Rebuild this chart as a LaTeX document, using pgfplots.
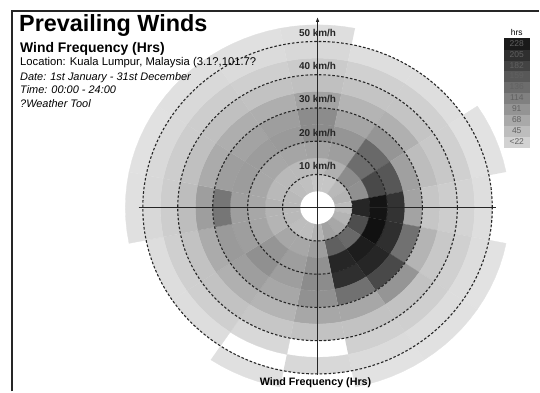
\documentclass[border=0pt]{standalone}
\usepackage{pgfplots}
\pgfplotsset{compat=1.18}
\usepackage{pgfplotstable}
\usepackage{fontspec}
\setmainfont{Liberation Sans}
\usetikzlibrary{arrows.meta}

% Hours of wind per direction (rows, N clockwise) and speed band (columns, 5 km/h wide from 5 km/h)
\pgfplotstableread{
dir r1 r2  r3  r4  r5  r6 r7 r8 r9 r10
0   35 50  75  100 100 75 42 30 15 8
1   35 60  80  90  72  55 38 24 8  0
2   50 100 135 140 90  60 38 24 8  0
3   55 96  175 160 78  45 33 24 6  4
4   45 215 235 200 75  35 28 20 8  0
5   55 170 238 205 130 55 33 24 10 4
6   70 140 225 215 175 90 40 25 10 5
7   77 150 215 205 130 70 40 24 12 4
8   55 80  95  100 95  70 40 0  15 0
9   45 70  80  80  70  55 35 15 0  6
10  45 70  90  96  80  60 40 25 10 0
11  50 55  72  80  85  65 40 25 10 0
12  50 55  70  80  125 80 45 28 15 6
13  50 50  70  82  80  65 42 28 14 5
14  45 50  70  82  75  62 42 28 14 6
15  42 50  72  85  80  62 40 25 12 6
}\windtab

% Colour key levels (hrs)
\pgfplotstableread{
k lvl
0 22
1 45
2 68
3 91
4 114
5 136
6 159
7 182
8 205
9 228
}\keytab

\begin{document}
\begin{tikzpicture}
% page extent
\path (0,0) rectangle (540bp,392bp);
\begin{axis}[
  at={(0,0)}, anchor=south west,
  scale only axis, x=3.5bp, y=3.33bp,
  xmin=-90.857, xmax=63.429, ymin=-55.255, ymax=62.462,
  hide axis, clip=false,
]
% speed/direction cells
\foreach \i in {0,...,15}{%
  \foreach \j in {1,...,10}{%
    \pgfplotstablegetelem{\i}{r\j}\of\windtab
    \let\hrs\pgfplotsretval
    \ifdim\hrs pt>0pt
      \pgfmathsetmacro\shade{10+0.35*\hrs}%
      \pgfmathsetmacro\ra{5*\j}%
      \pgfmathsetmacro\rb{5*\j+5}%
      \pgfmathsetmacro\ta{78.75-22.5*\i}%
      \gdef\pts{}%
      \foreach \k in {0,...,6}{\pgfmathsetmacro\ang{\ta+3.75*\k}\xdef\pts{\pts(\ang,\ra)}}%
      \foreach \k in {6,5,...,0}{\pgfmathsetmacro\ang{\ta+3.75*\k}\xdef\pts{\pts(\ang,\rb)}}%
      \edef\cell{\noexpand\addplot[forget plot, data cs=polar, draw=black!\shade, line width=0.3pt, fill=black!\shade] coordinates {\pts};}%
      \cell
    \fi
  }%
}
% speed rings
\foreach \s in {10,20,30,40,50}{%
  \edef\ring{\noexpand\draw[black!85, line width=1.1pt, dash pattern=on 2.6pt off 1.9pt] (axis cs:0,0) ellipse [x radius=\s, y radius=\s];}%
  \ring
}
% compass axes
\draw[black!85, line width=1.1pt] (axis cs:-51.2,0) -- (axis cs:51.2,0);
\draw[black!85, line width=1.1pt, -{Latex[length=5pt, width=3.5pt]}] (axis cs:0,-50.2) -- (axis cs:0,57.4);
\foreach \s in {10,20,30,40,50}{%
  \edef\lab{\noexpand\node[font=\noexpand\fontsize{10}{12}\noexpand\bfseries\noexpand\selectfont, text=black!85] at (axis cs:0,\s+2.6) {\s\noexpand\ km/h};}%
  \lab
}
\end{axis}

% colour key
\begin{axis}[
  at={(505bp,245bp)}, anchor=south west,
  scale only axis, width=25bp, height=109bp,
  xmin=0, xmax=1, ymin=0, ymax=10,
  hide axis, clip=false,
]
\foreach \k in {0,...,9}{%
  \pgfplotstablegetelem{\k}{lvl}\of\keytab
  \let\lv\pgfplotsretval
  \pgfmathsetmacro\shade{10+0.35*\lv}%
  \pgfmathtruncatemacro\kk{\k+1}%
  \edef\box{\noexpand\addplot[forget plot, draw=black!\shade, line width=0.3pt, fill=black!\shade] coordinates {(0,\k) (1,\k) (1,\kk) (0,\kk)};}%
  \box
  \ifnum\k=0
    \edef\lab{\noexpand\node[font=\noexpand\fontsize{8.5}{9}\noexpand\selectfont, text=black!62] at (axis cs:0.5,\k+0.5) {<\lv};}%
  \else
    \edef\lab{\noexpand\node[font=\noexpand\fontsize{8.5}{9}\noexpand\selectfont, text=black!62] at (axis cs:0.5,\k+0.5) {\lv};}%
  \fi
  \lab
}
\node[font=\fontsize{8.5}{9}\selectfont, anchor=base] at (axis cs:0.5,10.25) {hrs};
\end{axis}

% frame
\draw[black!85, line width=1.6bp] (12bp,0) -- (12bp,381bp) -- (540bp,381bp);

% titles
\node[anchor=base west, inner sep=0, font=\fontsize{23.5}{27}\bfseries\selectfont] at (19bp,360bp) {Prevailing Winds};
\node[anchor=base west, inner sep=0, font=\fontsize{14}{16}\bfseries\selectfont] at (20bp,339bp) {Wind Frequency (Hrs)};
\node[anchor=base west, inner sep=0, font=\fontsize{11.3}{13}\selectfont] at (20bp,326bp) {Location: Kuala Lumpur, Malaysia (3.1?,101.7?};
\node[anchor=base west, inner sep=0, font=\fontsize{11}{13}\itshape\selectfont] at (20bp,311bp) {Date: 1st January - 31st December};
\node[anchor=base west, inner sep=0, font=\fontsize{11}{13}\itshape\selectfont] at (20bp,298bp) {Time: 00:00 - 24:00};
\node[anchor=base west, inner sep=0, font=\fontsize{11}{13}\itshape\selectfont] at (20bp,284bp) {?Weather Tool};
\node[anchor=base, inner sep=0, font=\fontsize{10.8}{12}\bfseries\selectfont] at (316bp,6bp) {Wind Frequency (Hrs)};
\end{tikzpicture}
\end{document}
